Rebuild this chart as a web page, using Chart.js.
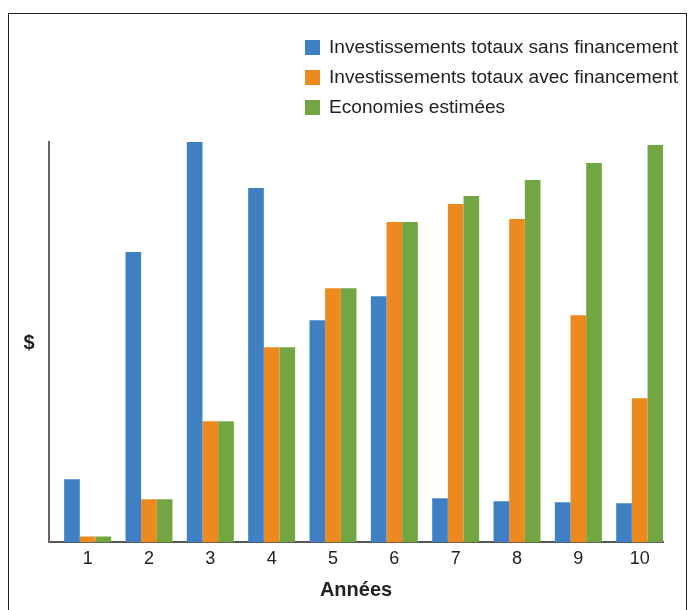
<!DOCTYPE html>
<html>
<head>
<meta charset="utf-8">
<script src="https://cdn.jsdelivr.net/npm/chart.js@4"></script>
<style>
    body { margin: 0; background: #fff; font-family: "Liberation Sans", Arial, sans-serif; }
    #wrap { position: relative; width: 691px; height: 610px; overflow: hidden; }
    #frame { position: absolute; left: 8px; top: 13px; width: 677px; height: 640px; border: 1.5px solid #222; pointer-events: none; }
    #legend { position: absolute; left: 305px; top: 32px; }
    .item { display: flex; align-items: center; height: 30px; font-size: 19.1px; color: #222; }
    .box { width: 15px; height: 15px; margin-right: 9px; }
    #yTitle { position: absolute; left: 20px; top: 331px; width: 18px; text-align: center; font-size: 20px; font-weight: bold; color: #222; }
</style>
</head>
<body>
<div id="wrap">
    <canvas id="investChart" width="691" height="610"></canvas>
    <div id="legend"></div>
    <div id="yTitle">$</div>
    <div id="frame"></div>
</div>
<script>
// Data (arbitrary $ scale, no ticks shown)
const annees = [1, 2, 3, 4, 5, 6, 7, 8, 9, 10];
const sansFinancement = [15.75, 72.5, 100, 88.5, 55.5, 61.5, 11, 10.25, 10, 9.75];
const avecFinancement = [1.5, 10.75, 30.25, 48.75, 63.5, 80, 84.5, 80.75, 56.75, 36];
const economies = [1.5, 10.75, 30.25, 48.75, 63.5, 80, 86.5, 90.5, 94.75, 99.25];

const labels = ['Investissements totaux sans financement', 'Investissements totaux avec financement', 'Economies estimées'];
const colors = ['#3f80c4', '#ec8a1f', '#72a642'];

const fontFamily = '"Liberation Sans", Arial, sans-serif';

// x is linear so the bar groups can sit a little right of the y axis, as in the original
const chart = new Chart(document.getElementById('investChart'), {
    type: 'bar',
    data: {
        labels: annees,
        datasets: [
            { label: labels[0], data: sansFinancement, backgroundColor: colors[0] },
            { label: labels[1], data: avecFinancement, backgroundColor: colors[1] },
            { label: labels[2], data: economies, backgroundColor: colors[2] }
        ]
    },
    options: {
        responsive: false,
        animation: false,
        layout: { padding: { top: 142, right: 28, left: 49, bottom: 0 } },
        datasets: { bar: { categoryPercentage: 0.766, barPercentage: 1.0 } },
        scales: {
            x: {
                type: 'linear',
                offset: false,
                min: 0.37,
                max: 10.38,
                grid: { display: false, drawTicks: false, offset: false },
                border: { color: '#555', width: 2 },
                ticks: { stepSize: 1, includeBounds: false, color: '#222', font: { family: fontFamily, size: 18 }, padding: 6 },
                title: { display: true, text: 'Années', color: '#222', font: { family: fontFamily, size: 20, weight: 'bold' }, padding: { top: 2, bottom: 8 } }
            },
            y: {
                min: 0,
                max: 100,
                grid: { display: false, drawTicks: false },
                border: { color: '#666', width: 2 },
                ticks: { display: false }
            }
        },
        plugins: {
            legend: { display: false },
            tooltip: { enabled: false }
        }
    }
});

// HTML legend built from the datasets
const legendEl = document.getElementById('legend');
chart.data.datasets.forEach(function(ds) {
    const item = document.createElement('div');
    item.className = 'item';
    item.innerHTML = '<span class="box" style="background:' + ds.backgroundColor + '"></span>' + ds.label;
    legendEl.appendChild(item);
});
</script>
</body>
</html>
